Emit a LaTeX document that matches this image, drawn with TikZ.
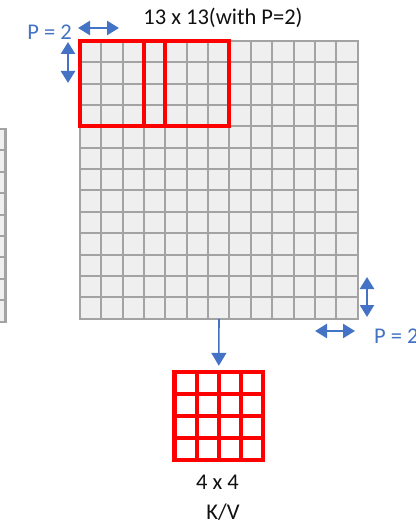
\documentclass[tikz,border=0pt]{standalone}
\usepackage{fontspec}
\setmainfont{Carlito}
\usetikzlibrary{arrows.meta}
\definecolor{gridgray}{HTML}{A3A3A3}
\definecolor{cellfill}{HTML}{EFEFEF}
\definecolor{pblue}{HTML}{4472C4}
\definecolor{txt}{HTML}{111111}
\definecolor{kred}{HTML}{FF0000}
\tikzset{
  cellline/.style={draw=gridgray, line width=1.5pt},
  gridborder/.style={draw=gridgray, line width=2.8pt},
  redbox/.style={draw=kred, line width=4.5pt},
  redline/.style={draw=kred, line width=4pt},
  parrow/.style={draw=pblue, line width=2.4pt, {Triangle[length=12pt,width=14pt]}-{Triangle[length=12pt,width=14pt]}},
  darrow/.style={draw=pblue, line width=1.6pt, -{Triangle[length=13pt,width=15pt]}},
  lbl/.style={font=\fontsize{22.5}{27}\selectfont, text=txt, inner sep=0pt},
  plbl/.style={font=\fontsize{22.5}{27}\selectfont, text=pblue, inner sep=0pt}
}
\begin{document}
\begin{tikzpicture}[x=1pt,y=-1pt]
\useasboundingbox (0,0) rectangle (415,526);
\def\cellsz{21.35}
% partial grid at left edge
\begin{scope}
\clip (0,0) rectangle (415,526);
\fill[cellfill] (-40,129) rectangle (5.5,322);
\foreach \j in {1,...,8} {
  \pgfmathsetmacro{\yy}{round(129+\j*21.38)}
  \draw[cellline] (-40,\yy) -- (5.5,\yy);
}
\draw[cellline] (-16,129) -- (-16,322);
\draw[gridborder] (-40,129) -- (5.5,129) -- (5.5,322) -- (-40,322);
\end{scope}
% big padded grid
\node[fill=cellfill, minimum size=277.55pt, inner sep=0pt, anchor=north west] (big) at (80,41) {};
\foreach \i in {1,...,12} {
  \pgfmathsetmacro{\xx}{round(80+\i*\cellsz)}
  \pgfmathsetmacro{\yy}{round(41+\i*\cellsz)}
  \draw[cellline] (\xx,41) -- (\xx,318.55);
  \draw[cellline] (80,\yy) -- (357.55,\yy);
}
\draw[gridborder] (big.north west) rectangle (big.south east);
% kernel windows
\draw[redbox] (80,41) rectangle (165,126);
\draw[redbox] (144,41) rectangle (229,126);
% K/V grid
\node[fill=white, minimum size=88pt, inner sep=0pt] (kv) at (218.8,416) {};
\foreach \i in {1,2,3} {
  \draw[redline] (174.8+\i*22,372) -- (174.8+\i*22,460);
  \draw[redline] (174.8,372+\i*22) -- (262.8,372+\i*22);
}
\draw[redbox] (kv.north west) rectangle (kv.south east);
\draw[darrow, shorten >=6pt] (big.south) -- (kv.north);
% padding arrows
\coordinate (hl1) at (78,28); \coordinate (hr1) at (119,28);
\coordinate (vt1) at (68,42); \coordinate (vb1) at (68,83);
\coordinate (vt2) at (367,277); \coordinate (vb2) at (367,317);
\coordinate (hl2) at (315,331); \coordinate (hr2) at (355,331);
\draw[parrow] (hl1) -- (hr1);
\draw[parrow] (vt1) -- (vb1);
\draw[parrow] (vt2) -- (vb2);
\draw[parrow] (hl2) -- (hr2);
% labels
\node[lbl] (title) at (223,18) {13 x 13(with P=2)};
\node[plbl] (p1) at (49.5,32) {P = 2};
\node[plbl, anchor=west] (p2) at (374,336) {P = 2};
\node[lbl] (size) at (217.5,482) {4 x 4};
\node[lbl] (kvl) at (223,512) {K/V};
\end{tikzpicture}
\end{document}
